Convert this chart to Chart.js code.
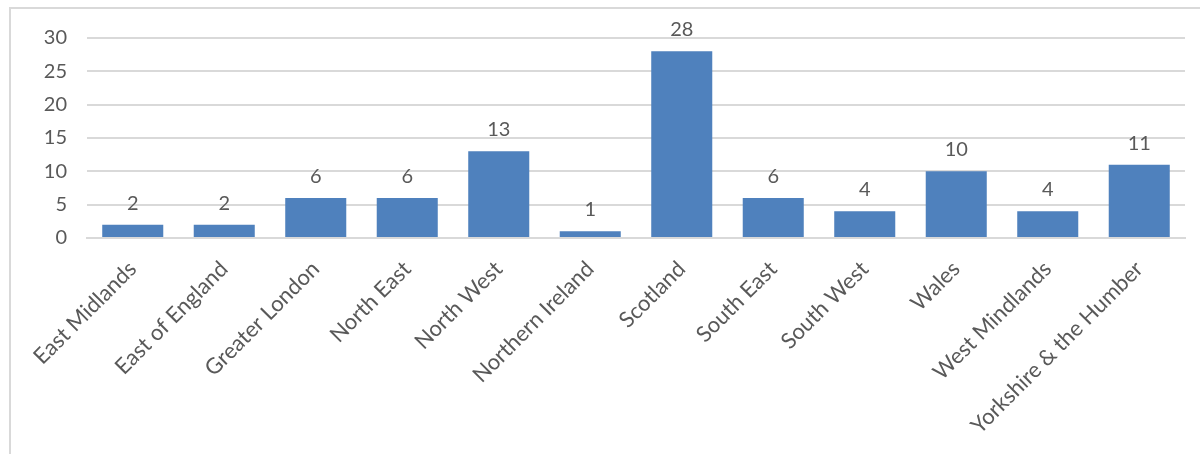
<!DOCTYPE html>
<html>
<head>
<meta charset="utf-8">
<script src="https://cdn.jsdelivr.net/npm/chart.js@4"></script>
<style>
    html, body { margin: 0; padding: 0; background: #fff; }
    #wrap { position: relative; width: 1200px; height: 454px; }
    #frame {
        position: absolute; left: 9px; top: 7px; right: 0; bottom: 0;
        border-left: 2px solid #d9d9d9; border-top: 2px solid #d9d9d9;
    }
    canvas { position: absolute; left: 0; top: 0; }
</style>
</head>
<body>
<div id="wrap">
    <div id="frame"></div>
    <canvas id="canvas-chart" width="1200" height="454"></canvas>
</div>
<script>
const regions = ['East Midlands', 'East of England', 'Greater London', 'North East', 'North West',
    'Northern Ireland', 'Scotland', 'South East', 'South West', 'Wales', 'West Mindlands',
    'Yorkshire & the Humber'];
const counts = [2, 2, 6, 6, 13, 1, 28, 6, 4, 10, 4, 11];
const yTicks = [0, 5, 10, 15, 20, 25, 30];

const textColor = '#595959';
const gridColor = '#d9d9d9';
const fontFamily = 'Lato, "Open Sans", sans-serif';

// label angka di atas batang
const valueLabels = {
    id: 'valueLabels',
    afterDatasetsDraw(chart) {
        const ctx = chart.ctx;
        const meta = chart.getDatasetMeta(0);
        ctx.save();
        ctx.fillStyle = textColor;
        ctx.font = '20px ' + fontFamily;
        ctx.textAlign = 'center';
        ctx.textBaseline = 'alphabetic';
        meta.data.forEach((bar, i) => {
            ctx.fillText(String(counts[i]), bar.x, bar.y - 15);
        });
        ctx.restore();
    }
};

const chartConfig = {
    type: 'bar',
    data: {
        labels: regions,
        datasets: [
            {
                data: counts,
                backgroundColor: '#4f81bd',
                categoryPercentage: 1,
                barPercentage: 0.667,
            }
        ]
    },
    options: {
        responsive: false,
        animation: false,
        layout: {
            padding: { top: 38, right: 15, left: 0, bottom: 0 }
        },
        scales: {
            x: {
                grid: { display: false },
                border: { display: true, color: gridColor, width: 2 },
                ticks: {
                    color: textColor,
                    font: { family: fontFamily, size: 22 },
                    minRotation: 45,
                    maxRotation: 45,
                    padding: 10,
                },
                afterFit(scale) { scale.height = 216; },
            },
            y: {
                min: 0,
                max: 30,
                afterBuildTicks(scale) {
                    scale.ticks = yTicks.map(v => ({ value: v }));
                },
                grid: { color: gridColor, lineWidth: 2, drawTicks: false },
                border: { display: false },
                ticks: {
                    color: textColor,
                    font: { family: fontFamily, size: 20 },
                    padding: 20,
                },
                afterFit(scale) { scale.width = 87; },
            }
        },
        plugins: {
            legend: { display: false },
            tooltip: { enabled: false },
        }
    },
    plugins: [valueLabels],
};

const canvasChart = document.getElementById('canvas-chart');
new Chart(canvasChart.getContext('2d'), chartConfig);
</script>
</body>
</html>
